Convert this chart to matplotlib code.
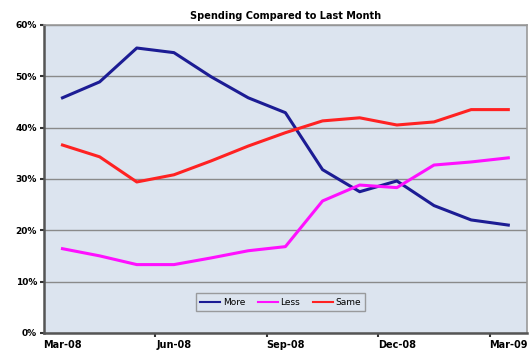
import matplotlib
matplotlib.use('Agg')
import matplotlib.pyplot as plt
import numpy as np

# Monthly survey results, Mar-08 to Mar-09
months = ['Mar-08', 'Apr-08', 'May-08', 'Jun-08', 'Jul-08', 'Aug-08', 'Sep-08',
          'Oct-08', 'Nov-08', 'Dec-08', 'Jan-09', 'Feb-09', 'Mar-09']
more = [45.8, 48.9, 55.5, 54.6, 49.9, 45.8, 42.9, 31.8, 27.5, 29.6, 24.8, 22.0, 21.0]
less = [16.4, 15.0, 13.3, 13.3, 14.6, 16.0, 16.8, 25.7, 28.8, 28.3, 32.7, 33.3, 34.1]
same = [36.6, 34.3, 29.4, 30.8, 33.5, 36.4, 39.0, 41.3, 41.9, 40.5, 41.1, 43.5, 43.5]

fig = plt.figure(figsize=(5.29, 3.56), dpi=100)
ax = fig.add_axes([0.083, 0.065, 0.913, 0.865])
ax.set_facecolor('#dce4ef')

x = np.arange(len(months))
ax.plot(x, more, color='#1c1c94', lw=2.2, label='More')
ax.plot(x, less, color='#ff10ff', lw=2.2, label='Less')
ax.plot(x, same, color='#ff2222', lw=2.2, label='Same')

ax.set_xlim(-0.5, len(months) - 0.5)
ax.set_ylim(0, 60)
ax.set_yticks(np.arange(0, 61, 10))
ax.set_yticklabels(['%d%%' % v for v in range(0, 61, 10)], fontsize=6.5, fontweight='bold')
ax.yaxis.grid(True, color='#8a8a8a', lw=1)
ax.set_axisbelow(True)

# labels every third month, tick marks between categories
ax.set_xticks(x[::3])
ax.set_xticklabels(months[::3], fontsize=7, fontweight='bold')
ax.tick_params(axis='x', length=0, pad=5)
ax.set_xticks(x[::3][1:] - 0.5, minor=True)
ax.tick_params(axis='x', which='minor', length=3, width=1.5, color='#333333')
ax.tick_params(axis='y', length=3, width=1.5, color='#333333', pad=2)

for side in ['top', 'right']:
    ax.spines[side].set_color('#999999')
    ax.spines[side].set_linewidth(1.2)
for side in ['left', 'bottom']:
    ax.spines[side].set_color('#555555')
    ax.spines[side].set_linewidth(1.8)

ax.set_title('Spending Compared to Last Month', fontsize=7, fontweight='bold', pad=4)

leg = ax.legend(loc='lower center', bbox_to_anchor=(0.49, 0.055), ncol=3, fontsize=6.5,
                frameon=True, fancybox=False, handlelength=2.2, columnspacing=1.4,
                borderpad=0.5, handletextpad=0.3)
leg.get_frame().set_edgecolor('#888888')
leg.get_frame().set_facecolor('#dce4ef')
for h in leg.get_lines():
    h.set_linewidth(1.5)

fig.savefig('out.png', dpi=100)
